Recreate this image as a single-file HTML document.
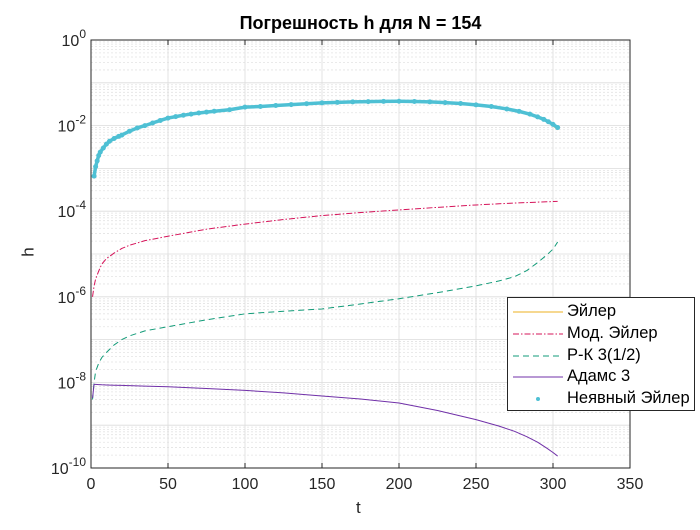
<!DOCTYPE html>
<html><head><meta charset="utf-8"><style>
body{margin:0;background:#fff;font-family:"Liberation Sans",Arial,sans-serif}
</style></head><body>
<svg id="c" width="700" height="525" xmlns="http://www.w3.org/2000/svg"></svg>
<script>
const tE=[2,3,4,5,6,8,10,12,15,18,20,25,30,35,40,45,50,55,60,65,70,75,80,90,100,110,120,130,140,150,160,170,180,190,200,210,220,230,240,250,260,270,278,285,290,294,297,300,303];
const implicitVals=[6.6e-4,1.1e-3,1.5e-3,2.0e-3,2.4e-3,3.0e-3,3.7e-3,4.3e-3,5.0e-3,5.6e-3,6.0e-3,7.4e-3,8.8e-3,1.0e-2,1.15e-2,1.32e-2,1.5e-2,1.62e-2,1.75e-2,1.86e-2,1.97e-2,2.07e-2,2.17e-2,2.35e-2,2.7e-2,2.8e-2,2.95e-2,3.1e-2,3.25e-2,3.4e-2,3.5e-2,3.58e-2,3.64e-2,3.68e-2,3.7e-2,3.66e-2,3.58e-2,3.45e-2,3.28e-2,3.05e-2,2.8e-2,2.45e-2,2.15e-2,1.85e-2,1.6e-2,1.4e-2,1.23e-2,1.07e-2,9e-3];
const eulerVals=[6.2e-4,1.05e-3,1.45e-3,1.95e-3,2.35e-3,2.95e-3,3.65e-3,4.25e-3,4.95e-3,5.55e-3,5.95e-3,7.35e-3,8.75e-3,1.0e-2,1.15e-2,1.32e-2,1.5e-2,1.62e-2,1.75e-2,1.86e-2,1.97e-2,2.07e-2,2.17e-2,2.35e-2,2.7e-2,2.8e-2,2.95e-2,3.1e-2,3.25e-2,3.4e-2,3.5e-2,3.58e-2,3.64e-2,3.68e-2,3.7e-2,3.66e-2,3.58e-2,3.45e-2,3.28e-2,3.05e-2,2.8e-2,2.44e-2,2.13e-2,1.82e-2,1.56e-2,1.35e-2,1.17e-2,1.0e-2,8.0e-3];
const tL=[1,2,3,5,7,10,15,20,25,35,50,75,100,125,150,175,200,225,250,265,275,283,290,296,300,303];
const modEulerVals=[1e-6,1.8e-6,2.6e-6,4e-6,5.8e-6,7.8e-6,1.05e-5,1.35e-5,1.6e-5,2.05e-5,2.6e-5,3.8e-5,5e-5,6.4e-5,7.9e-5,9.3e-5,1.07e-4,1.23e-4,1.4e-4,1.49e-4,1.55e-4,1.59e-4,1.63e-4,1.66e-4,1.68e-4,1.7e-4];
const rkVals=[4e-9,1e-8,1.8e-8,2.8e-8,3.8e-8,5e-8,7.5e-8,1e-7,1.22e-7,1.6e-7,2e-7,2.9e-7,4e-7,4.6e-7,5.2e-7,6.8e-7,9e-7,1.25e-6,1.8e-6,2.35e-6,2.95e-6,4.1e-6,6.3e-6,9.5e-6,1.3e-5,1.9e-5];
const adamsVals=[4.3e-9,9e-9,9e-9,8.9e-9,8.8e-9,8.7e-9,8.6e-9,8.5e-9,8.4e-9,8.2e-9,7.9e-9,7.2e-9,6.5e-9,5.7e-9,4.8e-9,4.1e-9,3.3e-9,2.2e-9,1.35e-9,9.5e-10,7.2e-10,5.4e-10,4e-10,2.9e-10,2.3e-10,1.9e-10];
const xTicks=[0,50,100,150,200,250,300,350];
const yExps=[0,-2,-4,-6,-8,-10];
const X0=91,X1=630,Y0=40,Y1=468;
const sx=t=>X0+(t/350)*(X1-X0);
const sy=v=>Y0+(-Math.log10(v)/10)*(Y1-Y0);
const svg=document.getElementById('c');const NS='http://www.w3.org/2000/svg';
function mk(tag,at,parent){const e=document.createElementNS(NS,tag);for(const k in at)e.setAttribute(k,at[k]);(parent||svg).appendChild(e);return e;}
const bg=mk('rect',{x:X0,y:Y0,width:X1-X0,height:Y1-Y0,fill:'#fff'});


const grid=mk('g',{});


for(let d=0;d<10;d++){for(let m=2;m<=9;m++){const y=sy(Math.pow(10,-d-1)*m);mk('line',{x1:X0,x2:X1,y1:y,y2:y,stroke:'#e3e3e3','stroke-dasharray':'2,2','stroke-width':0.8},grid);}}
for(let e=-10;e<=0;e++){const y=sy(Math.pow(10,e));mk('line',{x1:X0,x2:X1,y1:y,y2:y,stroke:'#dcdcdc','stroke-width':0.8},grid);}
xTicks.forEach(t=>{mk('line',{x1:sx(t),x2:sx(t),y1:Y0,y2:Y1,stroke:'#dcdcdc','stroke-width':0.8},grid);});
function series(ts,vs,color,dash,name,w){const p=mk('polyline',{points:ts.map((t,i)=>sx(t)+','+sy(vs[i])).join(' '),fill:'none',stroke:color,'stroke-width':w||1,'stroke-dasharray':dash||'','stroke-linejoin':'round'});

}
series(tE,eulerVals,'#edb120','','euler-line',1.2);
series(tL,modEulerVals,'#d6145a','6,2,1.5,2','mod-euler-line');
series(tL,rkVals,'#129b78','6,4','rk3-line');
series(tL,adamsVals,'#7030a8','','adams3-line');
series(tE,implicitVals,'#4ec0d4','','implicit-euler-band',3.5);
tE.forEach((t,i)=>{const c=mk('circle',{cx:sx(t),cy:sy(implicitVals[i]),r:2.5,fill:'#4ec0d4'});

});
const ax=mk('rect',{x:X0,y:Y0,width:X1-X0,height:Y1-Y0,fill:'none',stroke:'#262626','stroke-width':1});


xTicks.forEach(t=>{mk('line',{x1:sx(t),x2:sx(t),y1:Y1,y2:Y1-5,stroke:'#262626'});mk('line',{x1:sx(t),x2:sx(t),y1:Y0,y2:Y0+5,stroke:'#262626'});
const l=mk('text',{x:sx(t),y:Y1+21,'text-anchor':'middle','font-size':16,fill:'#262626'});l.textContent=t;

});
yExps.forEach(e=>{const y=sy(Math.pow(10,e));
const l=mk('text',{x:X0-5,y:y+6,'text-anchor':'end','font-size':16,fill:'#262626'});l.innerHTML='10<tspan dy="-8" font-size="12">'+e+'</tspan>';

});
</script>
<div style="position:absolute;left:0;top:0;width:700px;height:525px;pointer-events:none">
<div style="position:absolute;left:91px;width:539px;top:13px;text-align:center;font-weight:bold;font-size:18px;color:#000">Погрешность h для N = 154</div>
<div style="position:absolute;left:356px;top:498px;font-size:17px;color:#262626">t</div>
<div style="position:absolute;left:24px;top:242px;font-size:17px;color:#262626;transform:rotate(-90deg)">h</div>
<div style="position:absolute;left:507px;top:297px;width:186px;height:112px;border:1px solid #262626;background:#fff;font-size:16.5px;color:#000">
<svg width="60" height="112" style="position:absolute;left:0;top:0">
<line x1="5" x2="55" y1="14" y2="14" stroke="#edb120"/>
<line x1="5" x2="55" y1="36" y2="36" stroke="#d6145a" stroke-dasharray="6,2,1.5,2"/>
<line x1="5" x2="55" y1="58" y2="58" stroke="#129b78" stroke-dasharray="6,4"/>
<line x1="5" x2="55" y1="79" y2="79" stroke="#7030a8"/>
<circle cx="30" cy="101" r="2" fill="#4ec0d4"/>
</svg>
<div style="position:absolute;left:59px;top:4px">Эйлер</div>
<div style="position:absolute;left:59px;top:26px">Мод. Эйлер</div>
<div style="position:absolute;left:59px;top:48px">Р-К 3(1/2)</div>
<div style="position:absolute;left:59px;top:69px">Адамс 3</div>
<div style="position:absolute;left:59px;top:91px">Неявный Эйлер</div>
</div></div>
</body></html>
